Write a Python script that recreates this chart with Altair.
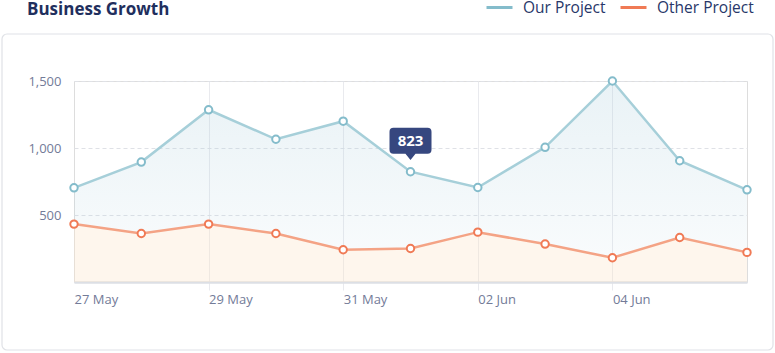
import altair as alt
import pandas as pd

# ---- data ----
dates = ["2024-05-27", "2024-05-28", "2024-05-29", "2024-05-30", "2024-05-31",
         "2024-06-01", "2024-06-02", "2024-06-03", "2024-06-04", "2024-06-05",
         "2024-06-06"]
our_project = [703, 895, 1285, 1065, 1200, 823, 705, 1005, 1500, 905, 688]
other_project = [432, 362, 432, 362, 241, 250, 372, 283, 181, 332, 221]
series_names = ["Our Project", "Other Project"]
tick_dates = ["2024-05-27", "2024-05-29", "2024-05-31", "2024-06-02", "2024-06-04"]
y_ticks = [500, 1000, 1500]
highlight_date = "2024-06-01"
title_text = "Business Growth"

line_colors = ["#a6cfd9", "#f4a385"]
marker_colors = ["#84bccb", "#f07a55"]

FONT = "Open Sans"

def ts(d):
    return d + "T00:00:00"

def dt(d):
    return alt.DateTime(year=int(d[:4]), month=int(d[5:7]), date=int(d[8:]))

long_df = pd.DataFrame({
    "date": [ts(d) for d in dates] * 2,
    "value": our_project + other_project,
    "series": [series_names[0]] * len(dates) + [series_names[1]] * len(dates),
})
wide_df = pd.DataFrame({
    "date": [ts(d) for d in dates],
    "our": our_project,
    "other": other_project,
})
hl_df = long_df[(long_df["date"] == ts(highlight_date)) & (long_df["series"] == series_names[0])]

x_enc = alt.X(
    "date:T",
    scale=alt.Scale(domain=[dt(dates[0]), dt(dates[-1])]),
    axis=alt.Axis(
        values=[dt(d) for d in tick_dates],
        format="%d %b",
        title=None,
        labelAlign="left",
        labelBaseline="top",
        labelPadding=3,
        labelFontSize=13,
        labelColor="#737b98",
        labelFont=FONT,
        labelFlush=False,
        grid=True,
        gridColor="#e9eaee",
        gridWidth=1,
        gridOpacity={"condition": {"test": "datum.index == 0", "value": 0}, "value": 1},
        ticks=True,
        tickColor="#e9eaee",
        tickSize=8,
        tickOpacity={"condition": {"test": "datum.index == 0", "value": 0}, "value": 1},
        domain=True,
        domainColor="#dcdfe5",
        domainWidth=2.5,
    ),
)

y_scale = alt.Scale(domain=[0, 1500], nice=False)
y_axis = alt.Axis(
    values=y_ticks,
    format=",.0f",
    title=None,
    ticks=False,
    domain=False,
    labelPadding=13,
    labelFontSize=13,
    labelColor="#737b98",
    labelFont=FONT,
    grid=True,
    gridColor="#dfe1e6",
    gridDash=[4, 3],
    gridWidth=1,
)

one_row = pd.DataFrame({"k": [0]})

# card frame
card = alt.Chart(one_row).mark_rect(
    fill="transparent", stroke="#e0e2e7", strokeWidth=1.2, cornerRadius=5
).encode(
    x=alt.value(-72), x2=alt.value(699), y=alt.value(-47), y2=alt.value(269)
)

# chart heading (drawn as text so it can sit in the padding area)
heading = alt.Chart(one_row).mark_text(
    font=FONT, fontSize=17, fontWeight="bold", color="#1f2f5e",
    align="left", baseline="alphabetic"
).encode(
    x=alt.value(-47), y=alt.value(-66.5), text=alt.value(title_text)
)

base_w = alt.Chart(wide_df)

area_our = base_w.mark_area(
    interpolate="linear",
    fill=alt.Gradient(
        gradient="linear",
        stops=[
            alt.GradientStop(color="rgba(170,205,220,0.26)", offset=0),
            alt.GradientStop(color="rgba(170,205,220,0.08)", offset=1),
        ],
        x1=0, x2=0, y1=0, y2=1,
    ),
).encode(
    x=x_enc,
    y=alt.Y("our:Q", scale=y_scale, axis=y_axis),
    y2="other:Q",
)

area_other = base_w.mark_area(
    interpolate="linear", fill="rgba(253,226,200,0.32)"
).encode(
    x=alt.X("date:T"),
    y=alt.Y("other:Q"),
    y2=alt.datum(0),
)

base_l = alt.Chart(long_df)

lines = base_l.mark_line(strokeWidth=2.5).encode(
    x=alt.X("date:T"),
    y=alt.Y("value:Q"),
    color=alt.Color("series:N", scale=alt.Scale(domain=series_names, range=line_colors), legend=None),
)

points = base_l.mark_point(filled=False, fill="white", fillOpacity=1, size=55, strokeWidth=2, opacity=1).encode(
    x=alt.X("date:T"),
    y=alt.Y("value:Q"),
    stroke=alt.Stroke(
        "series:N",
        scale=alt.Scale(domain=series_names, range=marker_colors),
        legend=alt.Legend(
            title=None,
            orient="none",
            direction="horizontal",
            legendX=411,
            legendY=-88,
            symbolType="stroke",
            symbolSize=676,
            symbolStrokeWidth=3,
            labelFont=FONT,
            labelFontSize=15.5,
            labelColor="#283769",
            labelOffset=9,
            columnPadding=8,
            padding=0,
        ),
    ),
)

bubble_path = ("M -0.81 -0.62 L 0.81 -0.62 Q 1 -0.62 1 -0.43 L 1 0.43 Q 1 0.62 0.81 0.62 "
               "L 0.24 0.62 L 0 0.92 L -0.24 0.62 L -0.81 0.62 Q -1 0.62 -1 0.43 "
               "L -1 -0.43 Q -1 -0.62 -0.81 -0.62 Z")

bubble = alt.Chart(hl_df).mark_point(
    shape=bubble_path, size=1764, filled=True, color="#36477f", opacity=1, yOffset=-31
).encode(x=alt.X("date:T"), y=alt.Y("value:Q"))

bubble_text = alt.Chart(hl_df).mark_text(
    color="white", font=FONT, fontSize=15, fontWeight="bold", yOffset=-31,
    align="center", baseline="middle"
).encode(x=alt.X("date:T"), y=alt.Y("value:Q"), text=alt.Text("value:Q"))

chart = alt.layer(
    card, heading, area_our, area_other, lines, points, bubble, bubble_text
).properties(
    width=673,
    height=201,
    autosize=alt.AutoSizeParams(type="none"),
    padding={"left": 74, "top": 81, "right": 28, "bottom": 71},
    background="white",
).resolve_scale(
    color="independent", stroke="independent"
).configure_view(
    stroke=None
).configure(
    font=FONT
)

chart.save("out.html", embed_options={"renderer": "svg", "actions": False})
